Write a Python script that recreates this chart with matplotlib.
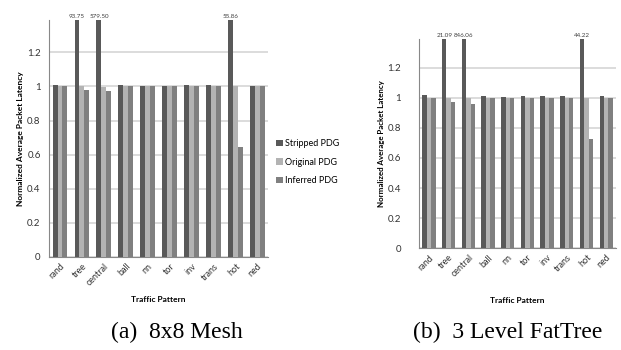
import numpy as np
import matplotlib.pyplot as plt

plt.rcParams['font.family'] = ['Lato', 'DejaVu Sans']

patterns = ["rand", "tree", "central", "ball", "nn", "tor", "inv", "trans", "hot", "ned"]
series = ["Stripped PDG", "Original PDG", "Inferred PDG"]

# (a) 8x8 Mesh
mesh_stripped = [1.01, 93.75, 579.50, 1.01, 1.0, 1.005, 1.01, 1.01, 55.86, 1.005]
mesh_original = [1.0, 1.0, 0.995, 1.0, 1.0, 1.0, 1.0, 1.0, 1.0, 1.0]
mesh_inferred = [1.0, 0.98, 0.975, 1.0, 1.0, 1.0, 1.0, 1.0, 0.645, 1.0]

# (b) 3 Level FatTree
ft_stripped = [1.02, 21.09, 846.06, 1.015, 1.005, 1.015, 1.015, 1.01, 44.22, 1.01]
ft_original = [1.0, 1.0, 1.0, 1.0, 1.0, 1.0, 1.0, 1.0, 1.0, 1.0]
ft_inferred = [1.0, 0.975, 0.96, 1.0, 1.0, 1.0, 1.0, 1.0, 0.725, 1.0]

colors = ["#595959", "#b3b3b3", "#808080"]
ytop = 1.39


def draw(ax, data, ypad, ylab_fs, xlabpad):
    x = np.arange(len(patterns))
    w = 0.225
    for i, vals in enumerate(data):
        ax.bar(x + (i - 1) * w, vals, w, color=colors[i], label=series[i], zorder=3)
    # labels for clipped bars
    for j, v in enumerate(data[0]):
        if v > ytop:
            ax.text(x[j] - w, ytop + 0.005, f"{v:.2f}", ha="center", va="bottom",
                    fontsize=4.5, color="#404040")
    ax.set_ylim(0, ytop)
    ax.set_xlim(-0.5, len(patterns) - 0.5)
    ax.set_yticks([0, 0.2, 0.4, 0.6, 0.8, 1.0, 1.2])
    ax.set_yticklabels(["0", "0.2", "0.4", "0.6", "0.8", "1", "1.2"], fontsize=7)
    ax.set_xticks(x)
    ax.set_xticklabels(patterns, rotation=45, ha="right", rotation_mode="anchor", fontsize=6.5)
    ax.tick_params(length=0, colors="#333333")
    ax.tick_params(axis="y", pad=ypad)
    ax.yaxis.grid(True, color="#d9d9d9", linewidth=1.3, zorder=0)
    for s in ["top", "right"]:
        ax.spines[s].set_visible(False)
    ax.spines["left"].set_color("#888888")
    ax.spines["bottom"].set_color("#888888")
    ax.set_xlabel("Traffic Pattern", fontsize=6, fontweight="bold", labelpad=xlabpad)
    ax.set_ylabel("Normalized Average Packet Latency", fontsize=ylab_fs, fontweight="bold",
                  labelpad=2)


fig = plt.figure(figsize=(6.21, 3.5), dpi=100)
ax1 = fig.add_axes([0.079, 0.266, 0.353, 0.677])
ax2 = fig.add_axes([0.675, 0.291, 0.317, 0.597])

draw(ax1, [mesh_stripped, mesh_original, mesh_inferred], 6, 6, 6)
draw(ax2, [ft_stripped, ft_original, ft_inferred], 13, 5.7, 13)

ax1.legend(loc="center left", bbox_to_anchor=(1.0, 0.40), frameon=False, fontsize=6.5,
           handlelength=0.7, handleheight=0.7, handletextpad=0.3, labelspacing=1.05)

fig.text(177 / 621, 1 - 332 / 350, "(a)  8x8 Mesh", ha="center", va="center",
         fontsize=17, family="Liberation Serif")
fig.text(508 / 621, 1 - 332 / 350, "(b)  3 Level FatTree", ha="center", va="center",
         fontsize=17, family="Liberation Serif")

plt.savefig("out.png", dpi=100)
